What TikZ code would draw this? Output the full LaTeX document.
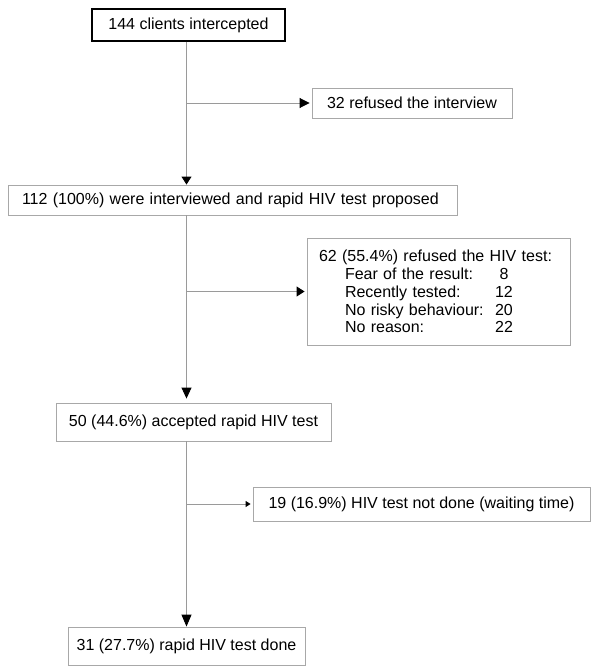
\documentclass[tikz,border=0pt]{standalone}
\usepackage{fontspec}
\setmainfont{Liberation Sans}
\usetikzlibrary{arrows.meta}
\definecolor{boxgray}{HTML}{A8A8A8}
\definecolor{linegray}{HTML}{9A9A9A}
\begin{document}
\begin{tikzpicture}[x=1pt,y=-1pt,
  box/.style={draw=boxgray, line width=0.9pt, font=\fontsize{16}{17.8}\selectfont, inner ysep=0pt, inner xsep=0pt, align=center},
  mainbox/.style={box, draw=black, line width=1.4pt},
  conn/.style={draw=linegray, line width=0.9pt},
  bigtip/.style={-{Triangle[length=#1,width=10pt,color=black,fill=black]}},
  smalltip/.style={-{Triangle[length=5pt,width=6pt,color=black,fill=black]}}]
\useasboundingbox[fill=white] (0,0) rectangle (600,672);
\node[mainbox, minimum width=193, minimum height=32] (b1) at (188.5,25) {144 clients intercepted};
\node[box, minimum width=200, minimum height=30] (b2) at (412,103) {32 refused the interview};
\node[box, text width=421, inner xsep=14, align=left, minimum height=30] (b3) at (232.5,200) {112 (100\%) were interviewed and rapid HIV test proposed};
\node[box, text width=239, inner xsep=12, align=left, minimum height=107] (b4) at (438.5,291.5) {62 (55.4\%) refused the HIV test:\\
\hspace*{26pt}\makebox[145pt][l]{Fear of the result:}\makebox[28pt]{8}\\
\hspace*{26pt}\makebox[145pt][l]{Recently tested:}\makebox[28pt]{12}\\
\hspace*{26pt}\makebox[145pt][l]{No risky behaviour:}\makebox[28pt]{20}\\
\hspace*{26pt}\makebox[145pt][l]{No reason:}\makebox[28pt]{22}};
\node[box, minimum width=275, minimum height=38] (b5) at (193.5,422) {50 (44.6\%) accepted rapid HIV test};
\node[box, minimum width=337, minimum height=34] (b6) at (421.5,504) {19 (16.9\%) HIV test not done (waiting time)};
\node[box, minimum width=237, minimum height=38] (b7) at (186.5,646) {31 (27.7\%) rapid HIV test done};
\coordinate (tx) at (186.5,0);
\draw[conn, bigtip=8pt] (b1.south -| tx) -- (b3.north -| tx);
\draw[conn, bigtip=10pt, shorten >=2pt] (tx |- b2.west) -- (b2.west);
\draw[conn, bigtip=11pt, shorten >=4pt] (b3.south -| tx) -- (b5.north -| tx);
\draw[conn, bigtip=8pt, shorten >=2pt] (tx |- b4.west) -- (b4.west);
\draw[conn, bigtip=12pt] (b5.south -| tx) -- (b7.north -| tx);
\draw[conn, smalltip, shorten >=2pt] (tx |- b6.west) -- (b6.west);
\end{tikzpicture}
\end{document}
